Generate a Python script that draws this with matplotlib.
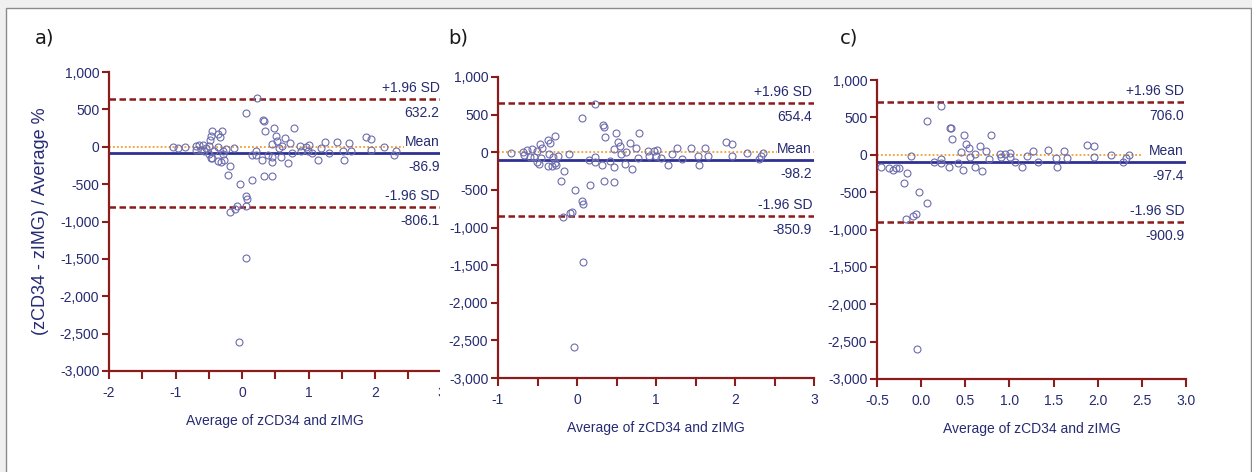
import matplotlib
matplotlib.use("Agg")
import matplotlib.pyplot as plt
from matplotlib import font_manager
from matplotlib.patches import Rectangle
from matplotlib.ticker import FuncFormatter, MultipleLocator
from matplotlib.transforms import offset_copy

# ---------------- data ----------------
# Panel a
a_x = [-1.035, -0.96, -0.86, -0.685, -0.645, -0.585, -0.615, -0.685, -0.57, -0.535,
       -0.50, -0.47, -0.495, -0.485, -0.455, -0.465, -0.45, -0.415, -0.36, -0.335,
       -0.295, -0.355, -0.365, -0.315, -0.29, -0.265, -0.28, -0.235, -0.175, -0.21,
       -0.12, -0.185, -0.11, -0.07, -0.035, 0.055, 0.07, 0.06, -0.045, 0.065,
       0.055, 0.22, 0.15, 0.145, 0.215, 0.215, 0.305, 0.315, 0.33, 0.34,
       0.33, 0.455, 0.39, 0.45, 0.455, 0.48, 0.455, 0.505, 0.53, 0.555,
       0.58, 0.605, 0.65, 0.69, 0.715, 0.75, 0.78, 0.875, 0.89, 0.955,
       1.0, 0.985, 1.05, 1.145, 1.19, 1.255, 1.315, 1.43, 1.515, 1.54,
       1.605, 1.64, 1.87, 1.94, 1.94, 2.14, 2.28, 2.315]
a_y = [0, -18, 0, 4, 22, 22, -49, -49, -62, -18,
       -94, -156, 4, 94, 214, 138, -152, -54, 165, 129,
       210, 0, -192, -210, -94, -174, -62, -31, -254, -384,
       -22, -875, -835, -799, -500, -786, -701, -656, -2607, -1482,
       446, 652, -442, -107, -107, -62, -174, 353, 344, 210,
       -388, -397, -112, -143, -210, 254, 40, 143, 80, -18,
       -138, 4, 121, -223, 49, -85, 254, 13, -54, 0,
       18, -62, -89, -179, -18, 58, -89, 58, -54, -179,
       49, -62, 129, 107, -49, 0, -107, -54]
a_upper, a_mean, a_lower = 632.2, -86.9, -806.1

# Panel b
b_x = [-0.84, -0.684, -0.671, -0.633, -0.599, -0.574, -0.549, -0.511, -0.506, -0.481,
       -0.468, -0.46, -0.447, -0.363, -0.338, -0.278, -0.35, -0.363, -0.304, -0.316,
       -0.262, -0.241, -0.274, -0.165, -0.198, -0.105, -0.177, -0.093, -0.063, -0.021,
       0.063, 0.08, -0.034, 0.063, 0.228, 0.072, 0.148, 0.16, 0.224, 0.232,
       0.329, 0.342, 0.35, 0.316, 0.346, 0.464, 0.422, 0.473, 0.494, 0.464,
       0.519, 0.54, 0.557, 0.603, 0.624, 0.667, 0.696, 0.743, 0.772, 0.789,
       0.899, 0.907, 0.975, 1.008, 1.004, 1.068, 1.156, 1.207, 1.27, 1.333,
       1.447, 1.536, 1.549, 1.624, 1.654, 1.886, 1.958, 1.966, 2.156, 2.304,
       2.333, 2.354]
b_y = [-10, 8, -36, 35, -58, 44, -58, 22, -125, -152,
       106, -72, 53, 159, 124, 212, -28, -178, -58, -187,
       -169, -45, -143, -249, -378, -19, -861, -807, -790, -497,
       -648, -692, -2584, 451, 646, -1459, -99, -431, -63, -134,
       358, 340, 207, -169, -382, -395, -116, -196, 256, 39,
       141, 80, -28, -161, 3, 124, -223, 62, -72, 256,
       18, -45, 13, 27, -54, -81, -169, -19, 53, -89,
       62, -49, -169, 53, -54, 133, 111, -45, -14, -89,
       -45, -5]
b_upper, b_mean, b_lower = 654.4, -98.2, -850.9

# Panel c
c_x = [-0.458, -0.368, -0.323, -0.285, -0.255, -0.164, -0.198, -0.021, 0.066, -0.172,
       -0.089, -0.055, -0.043, -0.111, 0.066, 0.225, 0.323, 0.334, 0.349, 0.149,
       0.225, 0.225, 0.315, 0.417, 0.474, 0.455, 0.489, 0.508, 0.542, 0.549,
       0.606, 0.613, 0.67, 0.689, 0.734, 0.772, 0.791, 0.889, 0.904, 0.953,
       1.002, 1.006, 1.062, 1.145, 1.194, 1.262, 1.323, 1.432, 1.526, 1.542,
       1.613, 1.651, 1.877, 1.953, 1.953, 2.149, 2.292, 2.315, 2.349]
c_y = [-158, -176, -207, -176, -180, -247, -376, -492, -652, -853,
       -817, -791, -2594, -16, 457, 653, 363, 354, 216, -96,
       -114, -60, -167, -114, -203, 38, 261, 150, 87, -29,
       -158, 11, 122, -220, 55, -60, 261, 7, -33, 7,
       20, -29, -100, -162, -16, 51, -91, 60, -42, -167,
       51, -42, 136, 114, -33, -7, -96, -42, -7]
c_upper, c_mean, c_lower = 706.0, -97.4, -900.9

panel_letters = ["a)", "b)", "c)"]
x_label = "Average of zCD34 and zIMG"
y_label = "(zCD34 - zIMG) / Average %"

# ---------------- style ----------------
names = {f.name for f in font_manager.fontManager.ttflist}
FONT = "Liberation Sans" if "Liberation Sans" in names else "DejaVu Sans"
plt.rcParams["font.family"] = [FONT, "DejaVu Sans"]
plt.rcParams["axes.unicode_minus"] = False

NAVY = "#262b72"
SPINE = "#8b1c1c"
SDCOL = "#8b1a1a"
MEANCOL = "#2e3192"
ZEROCOL = "#f0a030"
PTCOL = "#6c6cae"

W, H = 1252, 472
fig = plt.figure(figsize=(W / 100, H / 100), dpi=100, facecolor="#f0f0f0")

# white framed panel
fig.add_artist(Rectangle((6 / W, -0.05), (1251 - 6) / W, 1.05 - 8 / H,
                         transform=fig.transFigure, facecolor="white",
                         edgecolor="#8a8a8a", linewidth=1.0, zorder=-5))


def px_axes(l, r, t, b):
    return [l / W, 1 - b / H, (r - l) / W, (b - t) / H]


panels = [
    dict(pos=px_axes(109, 441.5, 72, 371), x=a_x, y=a_y, up=a_upper, mean=a_mean, low=a_lower,
         xlim=(-2, 3), major=1, fmt="{:.0f}", zero_end=1.0, letter_x=35),
    dict(pos=px_axes(498, 814, 77, 378), x=b_x, y=b_y, up=b_upper, mean=b_mean, low=b_lower,
         xlim=(-1, 3), major=1, fmt="{:.0f}", zero_end=1.0, letter_x=448),
    dict(pos=px_axes(877, 1186, 80, 379), x=c_x, y=c_y, up=c_upper, mean=c_mean, low=c_lower,
         xlim=(-0.5, 3.0), major=0.5, fmt="{:.1f}", zero_end=0.862, letter_x=840),
]

axes = []
for i, p in enumerate(panels):
    ax = fig.add_axes(p["pos"])
    ax.set_zorder(1 if i == 0 else 3)
    ax.patch.set_alpha(0)
    ax.set_xlim(*p["xlim"])
    ax.set_ylim(-3000, 1000)

    ax.axhline(0, xmin=0, xmax=p["zero_end"], color=ZEROCOL, lw=1.3,
               ls=(0, (1, 1.2)), zorder=2)
    ax.axhline(p["up"], color=SDCOL, lw=1.8, ls=(0, (2.6, 1.4)), zorder=2)
    ax.axhline(p["low"], color=SDCOL, lw=1.8, ls=(0, (2.6, 1.4)), zorder=2)
    ax.axhline(p["mean"], color=MEANCOL, lw=2.0, zorder=2)

    ax.plot(p["x"], p["y"], ls="none", marker="o", ms=5.0, mfc="none",
            mec=PTCOL, mew=0.8, zorder=3, clip_on=False)

    tr = ax.get_yaxis_transform()
    kw = dict(ha="right", color=NAVY, fontsize=10, zorder=4)
    above = offset_copy(tr, fig=fig, x=-2, y=4, units="dots")
    below = offset_copy(tr, fig=fig, x=-2, y=-7, units="dots")
    ax.text(1.0, p["up"], "+1.96 SD", transform=above, va="bottom", **kw)
    ax.text(1.0, p["up"], f"{p['up']:.1f}", transform=below, va="top", **kw)
    ax.text(1.0, p["mean"], "Mean", transform=above, va="bottom",
            bbox=dict(facecolor="white", edgecolor="none", pad=0.5), **kw)
    ax.text(1.0, p["mean"], f"{p['mean']:.1f}", transform=below, va="top", **kw)
    ax.text(1.0, p["low"], "-1.96 SD", transform=above, va="bottom", **kw)
    ax.text(1.0, p["low"], f"{p['low']:.1f}", transform=below, va="top", **kw)

    for s in ["top", "right"]:
        ax.spines[s].set_visible(False)
    for s in ["left", "bottom"]:
        ax.spines[s].set_color(SPINE)
        ax.spines[s].set_linewidth(1.6)

    ax.yaxis.set_major_locator(MultipleLocator(500))
    ax.yaxis.set_major_formatter(FuncFormatter(lambda v, _: f"{v:,.0f}"))
    ax.xaxis.set_major_locator(MultipleLocator(p["major"]))
    ax.xaxis.set_minor_locator(MultipleLocator(0.5))
    fmt = p["fmt"]
    ax.xaxis.set_major_formatter(FuncFormatter(lambda v, _, f=fmt: f.format(v)))
    ax.tick_params(axis="both", which="both", direction="out", color=SPINE,
                   width=1.5, labelcolor=NAVY, labelsize=10)
    ax.tick_params(axis="y", which="major", length=5, pad=2)
    ax.tick_params(axis="x", which="both", length=6, pad=5)

    ax.set_xlabel(x_label, color=NAVY, fontsize=10, labelpad=10)

    fig.text(p["letter_x"] / W, 1 - 38 / H, panel_letters[i], family="DejaVu Sans",
             fontsize=14, color="#1a1a1a", va="center", ha="left")
    axes.append(ax)

axes[0].set_ylabel(y_label, color=NAVY, fontsize=13, labelpad=8)

# panel b overlay hides the right end of panel a's x axis
fig.add_artist(Rectangle((440 / W, 20 / H), (497 - 440) / W, 440 / H,
                         transform=fig.transFigure, facecolor="white",
                         edgecolor="none", zorder=2))

fig.savefig("out.png", dpi=100, facecolor=fig.get_facecolor())
